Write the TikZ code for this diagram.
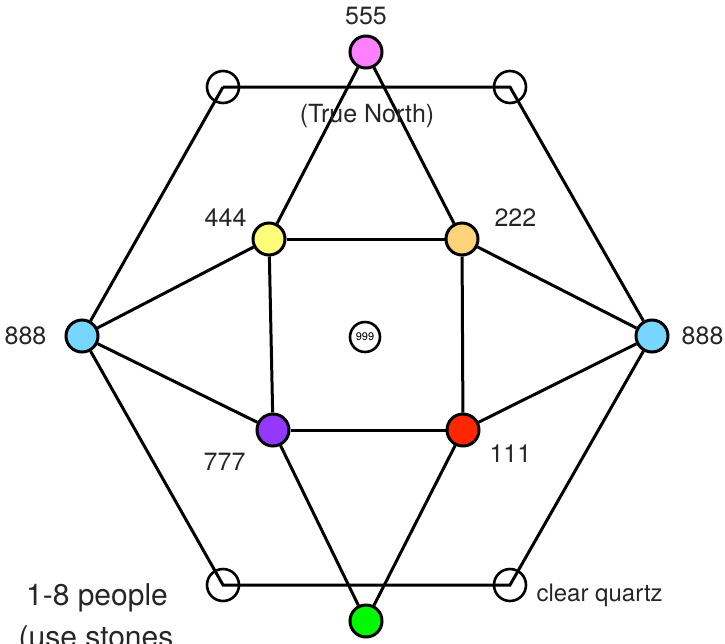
\documentclass[tikz,border=0pt]{standalone}
\usepackage{fontspec}
\setmainfont{TeX Gyre Heros}
\usetikzlibrary{positioning}
\definecolor{stonepink}{RGB}{255,128,255}
\definecolor{stoneyellow}{RGB}{255,252,121}
\definecolor{stoneorange}{RGB}{255,212,121}
\definecolor{stoneblue}{RGB}{118,214,255}
\definecolor{stonepurple}{RGB}{148,55,255}
\definecolor{stonered}{RGB}{255,38,0}
\definecolor{stonegreen}{RGB}{0,249,0}

\begin{document}
\begin{tikzpicture}[
				x=1pt, y=-1pt,
				stone/.style={circle, draw, line width=3pt, minimum size=32pt, inner sep=0pt},
				quartz/.style={circle, draw, line width=2.6pt, minimum size=32pt, inner sep=0pt},
				tag/.style={inner sep=0pt, text=black!85, font=\fontsize{25}{30}\selectfont},
				note/.style={inner sep=0pt, text=black!85, font=\fontsize{30}{36}\selectfont},
				link/.style={line width=3pt}
				]
				\useasboundingbox (0,0) rectangle (725,643);
				
				% outer ring of clear quartz
				\node[quartz] (qtl) at (223,87) {};
				\node[quartz] (qtr) at (510,87) {};
				\node[quartz] (qbl) at (223,585) {};
				\node[quartz] (qbr) at (510,585) {};
				
				% coloured stones
				\node[stone, fill=stonepink] (north) at (366,52) {};
				\node[stone, fill=stoneyellow] (four) at (269,239) {};
				\node[stone, fill=stoneorange] (two) at (462,239) {};
				\node[stone, fill=stoneblue] (westeight) at (82,336) {};
				\node[stone, fill=stoneblue] (easteight) at (652,336) {};
				\node[stone, fill=stonepurple] (seven) at (273,430) {};
				\node[stone, fill=stonered] (one) at (463,430) {};
				\node[stone, fill=stonegreen] (south) at (366,621) {};
				\node[quartz, minimum size=30pt, font=\fontsize{11}{13}\selectfont] (centre) at (365,337) {999};
				
				\draw[link] (qtl.center) -- (qtr.center) -- (easteight);
				\draw[link] (easteight) -- (qbr.center) -- (qbl.center) -- (westeight);
				\draw[link] (westeight) -- (qtl.center);
				\draw[link] (north) -- (four);
				\draw[link] (north) -- (two);
				\draw[link] (four) -- (two);
				\draw[link] (two) -- (one);
				\draw[link] (one) -- (seven);
				\draw[link] (seven) -- (four);
				\draw[link] (westeight) -- (four);
				\draw[link] (westeight) -- (seven);
				\draw[link] (easteight) -- (two);
				\draw[link] (easteight) -- (one);
				\draw[link] (seven) -- (south);
				\draw[link] (one) -- (south);
				
				% labels
				\node[tag, above=9pt of north] (northnum) {555};
				\node[tag, below=35pt of north, xshift=1pt] (northtext) {(True North)};
				\node[tag, above left=0pt and 10pt of four] (fournum) {444};
				\node[tag, above right=0pt and 20pt of two] (twonum) {222};
				\node[tag, left=18pt of westeight] (westnum) {888};
				\node[tag, right=12pt of easteight] (eastnum) {888};
				\node[tag, below left=11pt and 15pt of seven] (sevennum) {777};
				\node[tag, below right=2pt and 14pt of one] (onenum) {111};
				\node[tag, font=\fontsize{24}{29}\selectfont, anchor=base west] (quartznote) at ([xshift=9pt, yshift=-16pt]qbr.east) {clear quartz};
				\node[note, anchor=base] (people) at (97,605) {1-8 people};
				\node[note, anchor=base] (stones) at (96,647) {(use stones};
			\end{tikzpicture}
\end{document}
